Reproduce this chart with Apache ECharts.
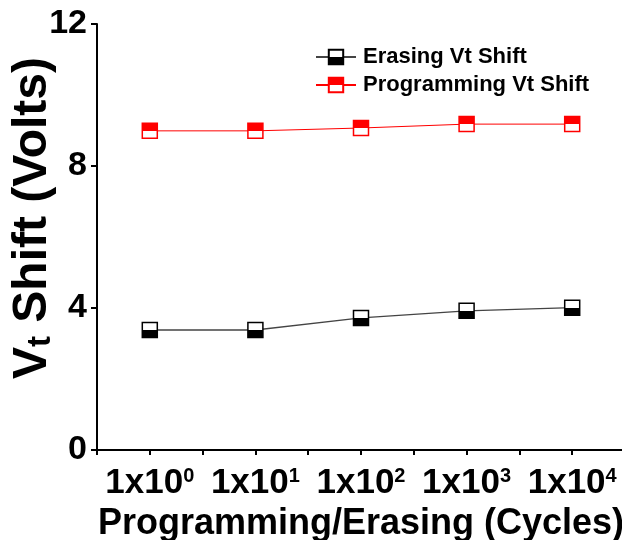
<!DOCTYPE html>
<html>
<head>
<meta charset="utf-8">
<script src="https://cdn.jsdelivr.net/npm/echarts@6/dist/echarts.min.js"></script>
<style>html,body{margin:0;padding:0;background:#fff}#c{width:622px;height:540px}</style>
</head>
<body>
<div id="c"></div>
<script>
// Data
const cycleExponents = [0, 1, 2, 3, 4];
const erasingShift = [3.38, 3.38, 3.72, 3.92, 4.01];
const programmingShift = [8.99, 8.99, 9.07, 9.18, 9.18];
const yTicks = [0, 4, 8, 12];
const seriesNames = ['Erasing Vt Shift', 'Programming Vt Shift'];

const FONT = "'Liberation Sans', Arial, sans-serif";
const chart = echarts.init(document.getElementById('c'), null, {renderer: 'canvas'});

function halfFill(topColor, bottomColor) {
  return new echarts.graphic.LinearGradient(0, 0, 0, 1, [
    {offset: 0, color: topColor}, {offset: 0.5, color: topColor},
    {offset: 0.5, color: bottomColor}, {offset: 1, color: bottomColor}
  ]);
}

const option = {
  animation: false,
  backgroundColor: '#fff',
  grid: {left: 97, right: -3, top: 24, bottom: 90, containLabel: false, outerBoundsMode: 'none'},
  legend: {
    orient: 'vertical', left: 315, top: 46, padding: 0,
    itemWidth: 40, itemHeight: 18, itemGap: 6,
    data: seriesNames,
    textStyle: {fontFamily: FONT, fontWeight: 'bold', fontSize: 22, color: '#000', padding: [0, 0, 0, 2]}
  },
  xAxis: {
    type: 'value', min: -0.5, max: 4.5, interval: 0.5,
    splitLine: {show: false},
    axisLine: {show: true, onZero: false, lineStyle: {color: '#000', width: 2}},
    axisTick: {show: true, inside: false, length: 5, lineStyle: {color: '#000', width: 2}},
    axisLabel: {
      margin: 16,
      formatter: function (v) {
        if (Math.abs(v - Math.round(v)) > 1e-6) return '';
        return '{b|1x10}{s|' + Math.round(v) + '}';
      },
      rich: {
        b: {fontFamily: FONT, fontWeight: 'bold', fontSize: 35, color: '#000', verticalAlign: 'bottom'},
        s: {fontFamily: FONT, fontWeight: 'bold', fontSize: 20, color: '#000', verticalAlign: 'top'}
      }
    },
    name: 'Programming/Erasing (Cycles)',
    nameLocation: 'middle', nameGap: 56, nameMoveOverlap: false,
    nameTextStyle: {fontFamily: FONT, fontWeight: 'bold', fontSize: 36, color: '#000'}
  },
  yAxis: {
    type: 'value', min: 0, max: 12, interval: 4,
    splitLine: {show: false},
    axisLine: {show: true, onZero: false, lineStyle: {color: '#000', width: 2}},
    axisTick: {show: true, inside: false, length: 6, lineStyle: {color: '#000', width: 2}},
    axisLabel: {
      margin: 10, fontFamily: FONT, fontWeight: 'bold', fontSize: 34, color: '#000',
      formatter: function (v) { return yTicks.indexOf(v) >= 0 ? String(v) : ''; }
    },
    name: '{v|V}{t|t}{v| Shift (Volts)}',
    nameLocation: 'middle', nameGap: 40, nameMoveOverlap: false,
    nameTextStyle: {
      padding: [0, 0, 0, 38],
      rich: {
        v: {fontFamily: FONT, fontWeight: 'bold', fontSize: 48, color: '#000', verticalAlign: 'bottom'},
        t: {fontFamily: FONT, fontWeight: 'bold', fontSize: 33, color: '#000', verticalAlign: 'bottom'}
      }
    }
  },
  series: [
    {
      name: seriesNames[0], type: 'line',
      data: cycleExponents.map((x, i) => [x, erasingShift[i]]),
      symbol: 'rect', symbolSize: 15,
      lineStyle: {color: '#444', width: 1.3},
      itemStyle: {color: halfFill('#fff', '#000'), borderColor: '#000', borderWidth: 1.5}
    },
    {
      name: seriesNames[1], type: 'line',
      data: cycleExponents.map((x, i) => [x, programmingShift[i]]),
      symbol: 'rect', symbolSize: 15,
      lineStyle: {color: '#ff0000', width: 1},
      itemStyle: {color: halfFill('#ff0000', '#fff'), borderColor: '#ff0000', borderWidth: 1.5}
    }
  ]
};
chart.setOption(option);
</script>
</body>
</html>
